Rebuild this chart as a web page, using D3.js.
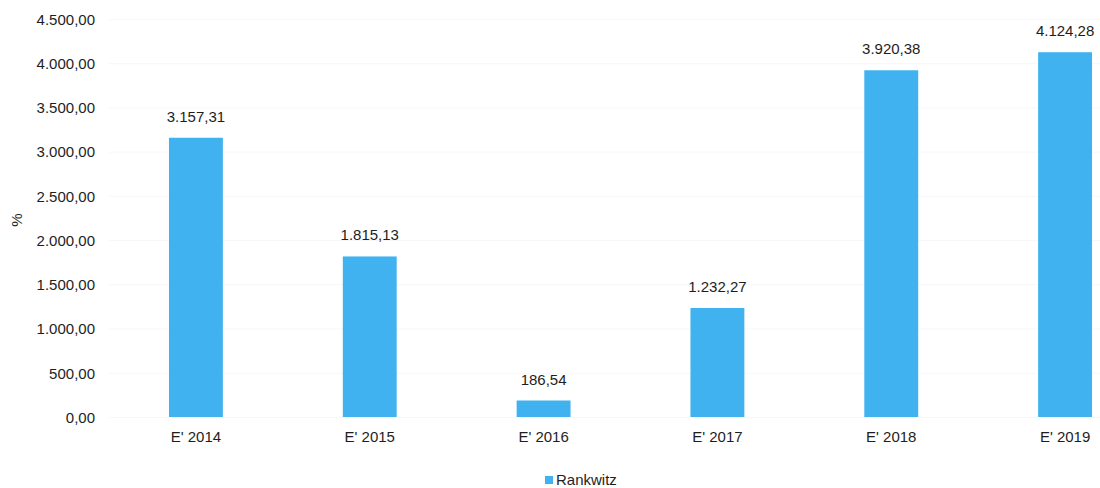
<!DOCTYPE html>
<html lang="de">
<head>
  <meta charset="UTF-8">
  <title>Rankwitz</title>
  <style>
    html, body { margin: 0; background: #fff; }
    text { font-family: 'Liberation Sans', Arial, sans-serif; fill: #1e1e1e; }
    .axis path, .axis line { display: none; }
    .grid line { stroke: #f7f7f7; }
    .grid path { display: none; }
  </style>
</head>
<body>
<svg width="1100" height="488"></svg>
<script src="https://d3js.org/d3.v7.min.js"></script>
<script>

const categories = ["E' 2014", "E' 2015", "E' 2016", "E' 2017", "E' 2018", "E' 2019"];
const values = [3157.31, 1815.13, 186.54, 1232.27, 3920.38, 4124.28];
const yTicks = [0, 500, 1000, 1500, 2000, 2500, 3000, 3500, 4000, 4500];
const seriesName = "Rankwitz";

const svg = d3.select("svg");
const barColor = "#3fb2ef";

const de = d3.formatLocale({decimal: ",", thousands: ".", grouping: [3], currency: ["", " €"]});
const fmt = de.format(",.2f");

const x = d3.scaleBand().domain(categories).range([109, 1152]).paddingInner(0.69).paddingOuter(0.345);
const y = d3.scaleLinear().domain([0, 4500]).range([417, 19]);

// faint gridlines
svg.append("g")
    .attr("class", "grid")
    .attr("transform", "translate(109,0)")
    .call(d3.axisLeft(y).tickValues(yTicks).tickSize(-1000).tickFormat(""));

const yAxis = svg.append("g")
    .attr("class", "axis")
    .attr("transform", "translate(103,0)")
    .call(d3.axisLeft(y).tickValues(yTicks).tickSize(0).tickPadding(8).tickFormat(fmt));
yAxis.selectAll("text").style("font-size", "15px").attr("dy", "0.35em");

svg.append("text")
    .attr("transform", "translate(22,220) rotate(-90)")
    .attr("text-anchor", "middle")
    .style("font-size", "15px")
    .text("%");

svg.selectAll(".bar")
    .data(values)
    .join("rect")
    .attr("class", "bar")
    .attr("x", (d, i) => x(categories[i]))
    .attr("width", x.bandwidth())
    .attr("y", d => y(d))
    .attr("height", d => y(0) - y(d))
    .attr("fill", barColor);

svg.selectAll(".val")
    .data(values)
    .join("text")
    .attr("class", "val")
    .attr("x", (d, i) => x(categories[i]) + x.bandwidth() / 2)
    .attr("y", d => y(d) - 16)
    .attr("text-anchor", "middle")
    .style("font-size", "15px")
    .text(d => fmt(d));

const xAxis = svg.append("g")
    .attr("class", "axis")
    .attr("transform", "translate(0,417)")
    .call(d3.axisBottom(x).tickSize(0).tickPadding(14));
xAxis.selectAll("text").style("font-size", "15px");

const legend = svg.append("g").attr("transform", "translate(545,480)");
legend.append("rect").attr("x", 0).attr("y", -4).attr("width", 8).attr("height", 8).attr("fill", barColor);
legend.append("text").attr("x", 11).attr("y", 0).attr("dy", "0.35em").style("font-size", "15px").text(seriesName);

</script>
</body>
</html>
